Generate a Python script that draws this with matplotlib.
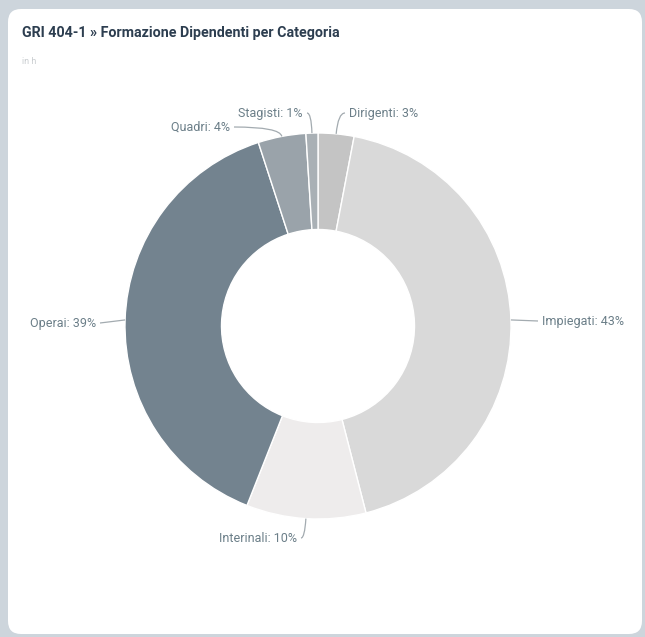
import numpy as np
import matplotlib
matplotlib.use("Agg")
import matplotlib.pyplot as plt
from matplotlib.patches import FancyBboxPatch, PathPatch
from matplotlib.path import Path

# ---- data ----
categories = ["Dirigenti", "Impiegati", "Interinali", "Operai", "Quadri", "Stagisti"]
shares = [3, 43, 10, 39, 4, 1]
colors = ["#c4c4c4", "#d9d9d9", "#eeecec", "#73838f", "#9aa3aa", "#a9b0b5"]
title = "GRI 404-1 » Formazione Dipendenti per Categoria"
subtitle = "in h"

# label anchor offsets (pixels from donut centre, y up) and alignment
label_pos = {
    "Dirigenti": (31, 213, "left"),
    "Impiegati": (224, 5, "left"),
    "Interinali": (-21, -212, "right"),
    "Operai": (-222, 3, "right"),
    "Quadri": (-88, 199, "right"),
    "Stagisti": (-15, 213, "right"),
}

W, H = 645, 637
fig = plt.figure(figsize=(W / 100, H / 100), dpi=100)
fig.patch.set_facecolor("#cdd5dc")

bg = fig.add_axes([0, 0, 1, 1])
bg.set_xlim(0, W)
bg.set_ylim(H, 0)
bg.axis("off")
card = FancyBboxPatch((8, 9), 634, 625, boxstyle="round,pad=0,rounding_size=13",
                      fc="white", ec="none")
bg.add_patch(card)
bg.text(22, 33, title, fontsize=10.3, fontweight="bold", color="#2d3e50",
        family="Roboto", va="center", ha="left")
bg.text(22, 61, subtitle, fontsize=6.5, color="#c9cdd0", family="Roboto",
        va="center", ha="left")

cx, cy, R = 318, 326, 193
S = 260
ax = fig.add_axes([(cx - S) / W, (H - cy - S) / H, 2 * S / W, 2 * S / H])
wedges, _ = ax.pie(shares, colors=colors, startangle=90, counterclock=False,
                   radius=R, wedgeprops=dict(width=R * 0.5, edgecolor="white",
                                             linewidth=1.0))
ax.set_xlim(-S, S)
ax.set_ylim(-S, S)
ax.set_aspect("auto")
ax.axis("off")

for w, name, v in zip(wedges, categories, shares):
    mid = np.deg2rad((w.theta1 + w.theta2) / 2)
    dx, dy = np.cos(mid), np.sin(mid)
    px, py = R * dx, R * dy
    tx, ty, ha = label_pos[name]
    ex = tx - 4 if ha == "left" else tx + 4
    ey = ty
    if abs(dy) < 0.15:
        verts = [(px, py), (ex, ey)]
        codes = [Path.MOVETO, Path.LINETO]
    else:
        t = (ey - py) / dy
        ctrl = (px + dx * t, ey)
        verts = [(px, py), ctrl, (ex, ey)]
        codes = [Path.MOVETO, Path.CURVE3, Path.CURVE3]
    ax.add_patch(PathPatch(Path(verts, codes), fc="none", ec="#a3abb0", lw=0.9))
    ax.text(tx, ty, f"{name}: {v}%", ha=ha, va="center", fontsize=9,
            color="#6b7e88", family="Roboto")

fig.savefig("out.png", dpi=100, facecolor=fig.get_facecolor())
